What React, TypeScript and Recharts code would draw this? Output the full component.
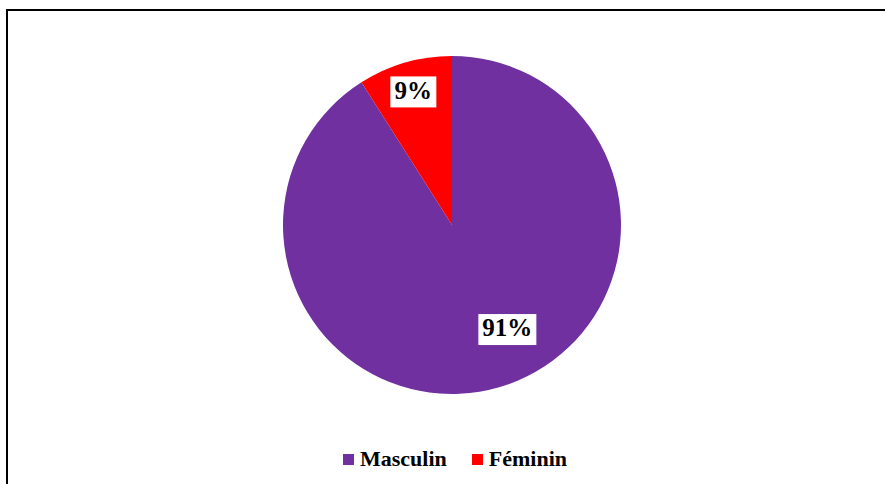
import React from 'react';
import { PieChart, Pie, Cell, Legend } from 'recharts';

const categories = ['Masculin', 'Féminin'];
const shares = [91, 9];
const colors = ['#7030A0', '#FF0000'];

const data = categories.map((name, i) => ({ name, value: shares[i] }));

// Excel "best fit" label placement, approximated per slice
const labelRadius = [0.7, 0.82];
const labelAngleShift = [11.7, 0];

const RAD = Math.PI / 180;
const serif = '"Liberation Serif", "Times New Roman", serif';

function renderLabel(props: any) {
  const { cx, cy, midAngle, outerRadius, index, value } = props;
  const r = outerRadius * labelRadius[index];
  const a = (midAngle + labelAngleShift[index]) * RAD;
  const x = cx + r * Math.cos(a);
  const y = cy - r * Math.sin(a);
  const text = `${value}%`;
  const w = text.length * 12 + 22;
  const h = 31;
  return (
    <g>
      <rect x={x - w / 2} y={y - h / 2} width={w} height={h} fill="#fff" />
      <text
        x={x}
        y={y + 1}
        textAnchor="middle"
        dominantBaseline="middle"
        fontFamily={serif}
        fontWeight="bold"
        fontSize={25}
        fill="#000"
      >
        {text}
      </text>
    </g>
  );
}

function LegendContent() {
  return (
    <div style={{ display: 'flex', justifyContent: 'center', alignItems: 'center', fontFamily: serif, fontWeight: 'bold', fontSize: 22, color: '#000' }}>
      {categories.map((name, i) => (
        <div key={name} style={{ display: 'flex', alignItems: 'center', marginRight: i === 0 ? 25 : 0 }}>
          <span style={{ display: 'inline-block', width: 11, height: 11, background: colors[i], marginRight: 6 }} />
          <span>{name}</span>
        </div>
      ))}
    </div>
  );
}

export default function App() {
  return (
    <div style={{ position: 'absolute', left: 0, top: 0, width: 885, height: 484, overflow: 'hidden', background: '#fff' }}>
      <div style={{ position: 'absolute', left: 6, top: 9, width: 900, height: 500, border: '2px solid #000', boxSizing: 'border-box' }} />
      <div style={{ position: 'absolute', left: 0, top: 0 }}>
        <PieChart width={885} height={484} margin={{ top: 0, right: 0, bottom: 0, left: 0 }}>
          <Pie
            data={data}
            dataKey="value"
            nameKey="name"
            cx={452}
            cy={225}
            outerRadius={169}
            startAngle={90}
            endAngle={-270}
            stroke="none"
            label={renderLabel}
            labelLine={false}
            isAnimationActive={false}
          >
            {data.map((d, i) => (
              <Cell key={d.name} fill={colors[i]} />
            ))}
          </Pie>
          <Legend
            content={<LegendContent />}
            wrapperStyle={{ position: 'absolute', left: 0, width: 910, top: 446 }}
          />
        </PieChart>
      </div>
    </div>
  );
}
